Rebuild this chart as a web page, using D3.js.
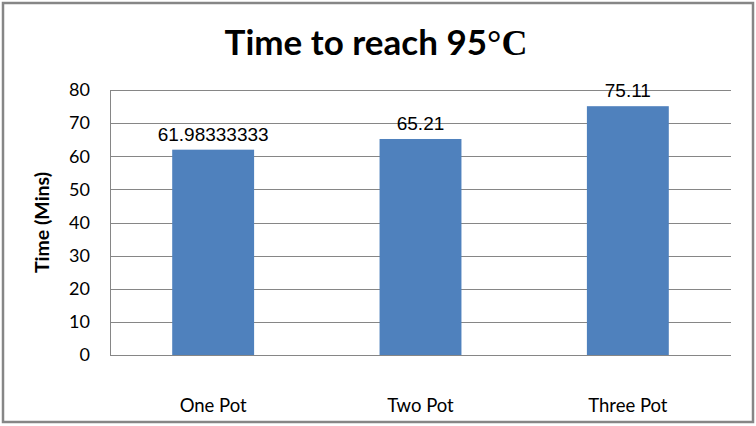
<!DOCTYPE html>
<html>
<head>
<meta charset="utf-8">
<script src="https://cdn.jsdelivr.net/npm/d3@7"></script>
<style>
  body { margin: 0; background: #fff; }
  svg { display: block; }
</style>
</head>
<body>
<svg class="chart"></svg>
<script>
"use strict";
// chart data
var categories = ["One Pot", "Two Pot", "Three Pot"];
var times = [61.98333333, 65.21, 75.11];
var valueLabels = ["61.98333333", "65.21", "75.11"];
var yTicks = [0, 10, 20, 30, 40, 50, 60, 70, 80];

var width = 756, height = 426;
var plot = {left: 110, right: 731, top: 90, bottom: 355};
var barColor = "#4F81BD";
var gridColor = "#868686";

var svg = d3.select(".chart")
	.attr("width", width)
	.attr("height", height);

// outer chart border
svg.append("rect")
	.attr("x", 3)
	.attr("y", 3)
	.attr("width", 750)
	.attr("height", 419)
	.attr("fill", "#fff")
	.attr("stroke", gridColor)
	.attr("stroke-width", 2.5);

var x = d3.scaleBand()
	.domain(categories)
	.range([plot.left, plot.right])
	.paddingInner(0.605)
	.paddingOuter(0.3);

var y = d3.scaleLinear()
	.domain([0, 80])
	.range([plot.bottom, plot.top]);

// gridlines
svg.append("g")
	.selectAll("line")
	.data(yTicks)
	.enter()
	.append("line")
	.attr("x1", plot.left)
	.attr("x2", plot.right)
	.attr("y1", function(d) { return Math.round(y(d)) + 0.5; })
	.attr("y2", function(d) { return Math.round(y(d)) + 0.5; })
	.attr("stroke", gridColor)
	.attr("stroke-width", 1);

// y axis line
svg.append("line")
	.attr("x1", plot.left + 0.5)
	.attr("x2", plot.left + 0.5)
	.attr("y1", plot.top)
	.attr("y2", plot.bottom)
	.attr("stroke", gridColor);

// y tick labels
svg.append("g")
	.selectAll("text")
	.data(yTicks)
	.enter()
	.append("text")
	.attr("x", 90)
	.attr("y", function(d) { return y(d); })
	.attr("dy", "0.35em")
	.attr("text-anchor", "end")
	.attr("font-family", "Lato, 'Open Sans', sans-serif")
	.attr("font-size", 18)
	.attr("fill", "#000")
	.text(function(d) { return d; });

// bars
svg.append("g")
	.selectAll("rect")
	.data(times)
	.enter()
	.append("rect")
	.attr("x", function(d, i) { return x(categories[i]); })
	.attr("y", function(d) { return y(d); })
	.attr("width", x.bandwidth())
	.attr("height", function(d) { return y(0) - y(d); })
	.attr("fill", barColor);

// redraw baseline over bars
svg.append("line")
	.attr("x1", plot.left)
	.attr("x2", plot.right)
	.attr("y1", Math.round(y(0)) + 0.5)
	.attr("y2", Math.round(y(0)) + 0.5)
	.attr("stroke", gridColor);

// value labels
svg.append("g")
	.selectAll("text")
	.data(times)
	.enter()
	.append("text")
	.attr("x", function(d, i) { return x(categories[i]) + x.bandwidth() / 2; })
	.attr("y", function(d) { return y(d) - 9; })
	.attr("text-anchor", "middle")
	.attr("font-family", "'Liberation Sans', Arial, sans-serif")
	.attr("font-size", 19)
	.attr("fill", "#000")
	.text(function(d, i) { return valueLabels[i]; });

// category labels
svg.append("g")
	.selectAll("text")
	.data(categories)
	.enter()
	.append("text")
	.attr("x", function(d) { return x(d) + x.bandwidth() / 2; })
	.attr("y", 412)
	.attr("text-anchor", "middle")
	.attr("font-family", "Lato, 'Open Sans', sans-serif")
	.attr("font-size", 18.5)
	.attr("fill", "#000")
	.text(function(d) { return d; });

// y axis title
svg.append("text")
	.attr("transform", "translate(49," + ((plot.top + plot.bottom) / 2) + ") rotate(-90)")
	.attr("text-anchor", "middle")
	.attr("font-family", "Lato, 'Open Sans', sans-serif")
	.attr("font-weight", "bold")
	.attr("font-size", 19.5)
	.attr("fill", "#000")
	.text("Time (Mins)");

// chart title
var title = svg.append("text")
	.attr("x", 376)
	.attr("y", 55)
	.attr("text-anchor", "middle")
	.attr("font-family", "Lato, 'Open Sans', sans-serif")
	.attr("font-weight", "bold")
	.attr("font-size", 35)
	.attr("fill", "#000");
title.append("tspan").text("Time to reach 95");
title.append("tspan")
	.attr("font-family", "'Liberation Serif', serif")
	.attr("font-size", 36)
	.text("°C");
</script>
</body>
</html>
